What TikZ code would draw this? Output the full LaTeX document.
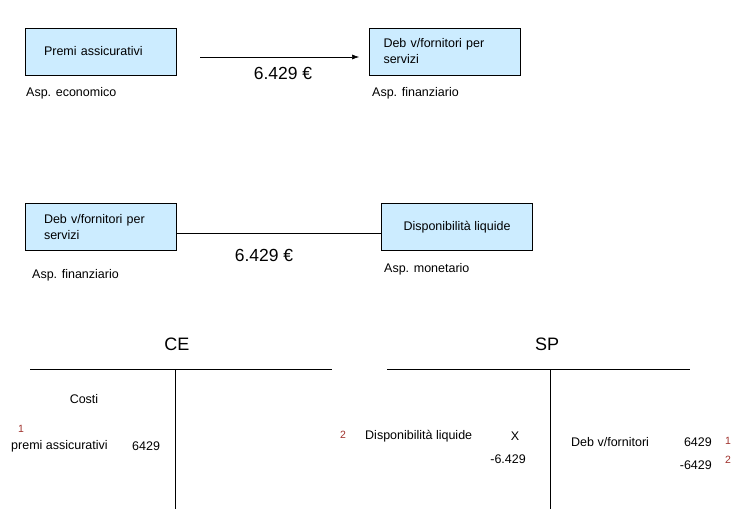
\documentclass[tikz,border=0pt]{standalone}
\usepackage{fontspec}
\setmainfont{Liberation Sans}
\usetikzlibrary{arrows.meta, positioning}
\definecolor{boxfill}{RGB}{204,236,255}
\definecolor{stepred}{RGB}{160,50,45}
\tikzset{
    box/.style={
        rectangle,
        draw=black,
        thick,
        fill=boxfill,
        minimum width=151pt,
        minimum height=47pt,
        align=left,
        font=\fontsize{12.5}{16}\selectfont
    },
    label/.style={
        inner sep=0pt,
        font=\fontsize{12.5}{16}\selectfont
    },
    amount/.style={
        inner sep=0pt,
        font=\fontsize{17.5}{20}\selectfont
    },
    title/.style={
        inner sep=0pt,
        font=\fontsize{18}{20}\selectfont
    },
    stepnum/.style={
        inner sep=0pt,
        text=stepred,
        font=\fontsize{10.5}{12}\selectfont
    },
    connection/.style={
        draw=black,
        semithick
    },
    account/.style={
        draw=black,
        semithick
    }
}
\begin{document}
\begin{tikzpicture}[x=1pt, y=-1pt]
\useasboundingbox (0,0) rectangle (747,519);

% First entry: cost and debt
\node[box, inner xsep=19pt, text width=113pt] (premi) at (100.5,51.5) {Premi assicurativi};
\node[box, inner xsep=14pt, text width=123pt] (debfirst) at (445,51.5) {Deb v/fornitori per\\servizi};
\node[label, anchor=west] (aspecon) at (26,93) {Asp. economico};
\node[label, anchor=west] (aspfinfirst) at (372,93) {Asp. finanziario};
\draw[connection, -{Latex[length=7pt,width=5pt]}, shorten <=24pt, shorten >=10pt]
    ([yshift=-5.5pt]premi.east) -- ([yshift=-5.5pt]debfirst.west);
\node[amount] (amountfirst) at (283,73) {6.429 €};

% Second entry: payment of the debt
\node[box, inner xsep=19pt, text width=113pt] (debsecond) at (100.5,227) {Deb v/fornitori per\\servizi};
\node[box, align=center] (cash) at (457,227) {Disponibilità liquide};
\node[label, anchor=west] (aspfinsecond) at (32,275) {Asp. finanziario};
\node[label, anchor=west] (aspmon) at (384,269) {Asp. monetario};
\draw[connection] ([yshift=-6pt]debsecond.east) -- ([yshift=-6pt]cash.west);
\node[amount] (amountsecond) at (264,255) {6.429 €};

% CE account
\node[title] (ce) at (177,344) {CE};
\draw[account] (30,369) -- (332,369);
\draw[account] (175,369) -- (175,509);
\node[label] (costi) at (84,399) {Costi};
\node[stepnum] (ceone) at (21,429) {1};
\node[label, anchor=west] (premiitem) at (11,446) {premi assicurativi};
\node[label, anchor=west] (premival) at (132,446) {6429};
\node[stepnum] (cetwo) at (343,435) {2};

% SP account
\node[title] (sp) at (547,344) {SP};
\draw[account] (387,369) -- (690,369);
\draw[account] (550,369) -- (550,509);
\node[label, anchor=west] (cashitem) at (365,436) {Disponibilità liquide};
\node[label] (cashx) at (515,436) {X};
\node[label, anchor=east] (cashval) at (526,459) {-6.429};
\node[label, anchor=west] (debitem) at (571,442) {Deb v/fornitori};
\node[label, anchor=east] (debval) at (712,442) {6429};
\node[label, anchor=east] (debpaid) at (712,465) {-6429};
\node[stepnum] (spone) at (728,441) {1};
\node[stepnum] (sptwo) at (728,460) {2};

\end{tikzpicture}
\end{document}
